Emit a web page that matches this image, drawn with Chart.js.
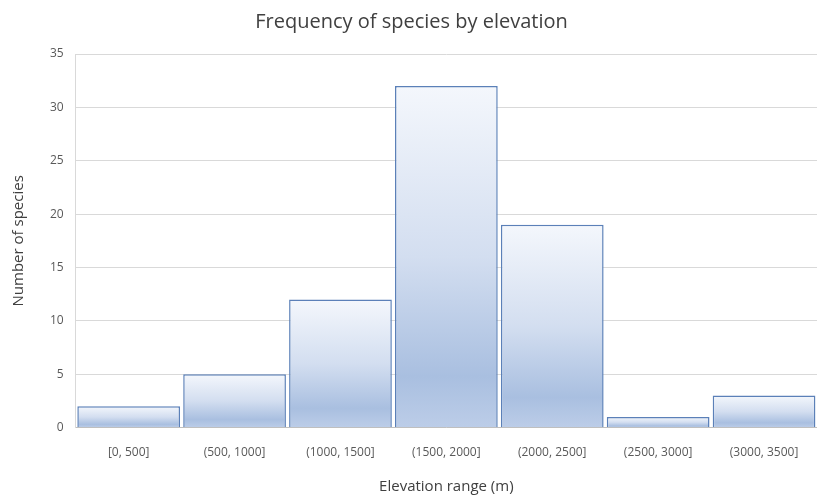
<!DOCTYPE html>
<html>
<head>
<meta charset="utf-8">
<script src="https://cdn.jsdelivr.net/npm/chart.js@4"></script>
<style>
  html, body { margin: 0; padding: 0; background: #fff; }
  #wrap { width: 817px; height: 501px; }
</style>
</head>
<body>
<div id="wrap"><canvas id="myChart"></canvas></div>
<script>
/* Data */
const elevationRanges = ['[0, 500]', '(500, 1000]', '(1000, 1500]', '(1500, 2000]', '(2000, 2500]', '(2500, 3000]', '(3000, 3500]'];
const speciesCounts = [2, 5, 12, 32, 19, 1, 3];
const yTicks = [0, 5, 10, 15, 20, 25, 30, 35];

const ctx = document.getElementById('myChart');
const font = "'Open Sans', 'Noto Sans', sans-serif";

// vertical gradient per bar, light at top, darker blue towards bottom
function barGradient(c) {
    const chart = c.chart;
    const y = chart.scales && chart.scales.y;
    if (!y || c.raw == null || isNaN(y.getPixelForValue(0))) return '#c5d5ec';
    const top = y.getPixelForValue(c.raw);
    const bottom = y.getPixelForValue(0);
    const g = chart.ctx.createLinearGradient(0, top, 0, bottom);
    g.addColorStop(0, '#f4f7fc');
    g.addColorStop(0.5, '#d3def0');
    g.addColorStop(0.85, '#a9bfe0');
    g.addColorStop(1, '#bccde8');
    return g;
}

var myChart = new Chart(ctx, {
    type: 'bar',
    data: {
        labels: elevationRanges,
        datasets: [{
            label: 'Number of species',
            data: speciesCounts,
            backgroundColor: barGradient,
            borderColor: '#5b80b8',
            borderWidth: 1.5,
            barPercentage: 0.97,
            categoryPercentage: 1.0
        }]
    },
    options: {
        responsive: true,
        maintainAspectRatio: false,
        animation: false,
        layout: { padding: { top: 6, right: 0, left: 6, bottom: 0 } },
        plugins: {
            legend: { display: false },
            tooltip: { enabled: false },
            title: {
                display: true,
                text: 'Frequency of species by elevation',
                color: '#404040',
                font: { family: font, size: 20, weight: 'normal' },
                padding: { top: 4, bottom: 20 }
            }
        },
        scales: {
            x: {
                grid: { display: false, drawTicks: false },
                border: { color: '#bfbfbf' },
                ticks: {
                    color: '#595959',
                    font: { family: font, size: 12 },
                    padding: 18,
                    maxRotation: 0
                },
                title: {
                    display: true,
                    text: 'Elevation range (m)',
                    color: '#404040',
                    font: { family: font, size: 15 },
                    padding: { top: 0, bottom: 5 }
                }
            },
            y: {
                min: 0,
                max: 35,
                afterBuildTicks: function (axis) {
                    axis.ticks = yTicks.map(function (v) { return { value: v }; });
                },
                grid: { color: '#d9d9d9', drawTicks: false },
                border: { color: '#d9d9d9' },
                ticks: {
                    color: '#595959',
                    font: { family: font, size: 12 },
                    padding: 12
                },
                title: {
                    display: true,
                    text: 'Number of species',
                    color: '#404040',
                    font: { family: font, size: 15 },
                    padding: { bottom: 10 }
                }
            }
        }
    }
});
</script>
</body>
</html>
